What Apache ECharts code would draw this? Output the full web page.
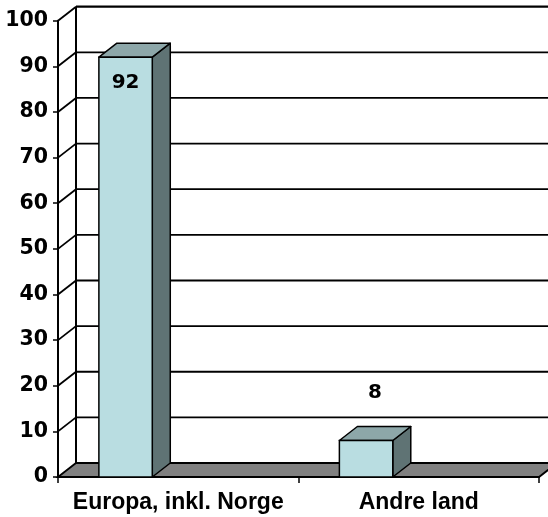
<!DOCTYPE html>
<html>
<head>
<meta charset="utf-8">
<script src="https://cdn.jsdelivr.net/npm/echarts@6/dist/echarts.min.js"></script>
<style>
html,body{margin:0;padding:0;background:#fff;}
#c{width:548px;height:517px;}
</style>
</head>
<body>
<div id="c"></div>
<script>
const categories = ['Europa, inkl. Norge', 'Andre land'];
const values = [92, 8];
const yTicks = [0, 10, 20, 30, 40, 50, 60, 70, 80, 90, 100];

const DX = 18, DY = -14;
const FRONT = '#b9dde1', TOP = '#8da7a9', SIDE = '#5f7374', FLOOR = '#808080';

const chart = echarts.init(document.getElementById('c'), null, {renderer: 'canvas'});

function renderWalls(params, api) {
  const v = api.value(1);
  const cs = params.coordSys;
  const x0 = cs.x, x1 = cs.x + cs.width;
  const y = api.coord([0, v])[1];
  const y0 = api.coord([0, 0])[1];
  const yTop = api.coord([0, 100])[1];
  const children = [];
  if (v === 0) {
    children.push({
      type: 'polygon',
      shape: {points: [[x0, y], [x0 + DX, y + DY], [x1 + DX, y + DY], [x1, y]]},
      style: {fill: FLOOR, stroke: '#000', lineWidth: 1.8}
    });
    children.push({
      type: 'line',
      shape: {x1: x0 + DX, y1: y0 + DY, x2: x0 + DX, y2: yTop + DY},
      style: {stroke: '#000', lineWidth: 2}
    });
  } else {
    children.push({
      type: 'line',
      shape: {x1: x0 + DX, y1: y + DY, x2: x1 + DX + 20, y2: y + DY},
      style: {stroke: '#000', lineWidth: v === 100 ? 2.2 : 1.8}
    });
    children.push({
      type: 'line',
      shape: {x1: x0, y1: y, x2: x0 + DX, y2: y + DY},
      style: {stroke: '#000', lineWidth: 1.8}
    });
  }
  return {type: 'group', children: children};
}

function renderBars(params, api) {
  const idx = api.value(0);
  const val = api.value(1);
  const top = api.coord([idx, val]);
  const base = api.coord([idx, 0]);
  const band = api.size([1, 0])[0];
  const R = top[0] - band * 0.108;
  const L = R - band * 0.222;
  const yt = top[1], yb = base[1];
  const children = [
    {type: 'polygon', shape: {points: [[R, yt], [R + DX, yt + DY], [R + DX, yb + DY], [R, yb]]},
     style: {fill: SIDE, stroke: '#000', lineWidth: 1.5, lineJoin: 'round'}},
    {type: 'polygon', shape: {points: [[L, yt], [L + DX, yt + DY], [R + DX, yt + DY], [R, yt]]},
     style: {fill: TOP, stroke: '#000', lineWidth: 1.5, lineJoin: 'round'}},
    {type: 'rect', shape: {x: L, y: yt, width: R - L, height: yb - yt},
     style: {fill: FRONT, stroke: '#000', lineWidth: 1.5}}
  ];
  const inside = (yb - yt) > 60;
  children.push({
    type: 'text',
    style: {
      text: String(val),
      x: inside ? (L + R) / 2 : (L + R + DX) / 2,
      y: inside ? yt + 26 : yt - 48,
      fill: '#000',
      font: 'bold 20px "DejaVu Sans"',
      textAlign: 'center',
      textVerticalAlign: 'middle'
    }
  });
  return {type: 'group', children: children};
}

chart.setOption({
  animation: false,
  backgroundColor: '#ffffff',
  grid: {left: 58, right: 9, top: 20.7, bottom: 40, containLabel: false},
  xAxis: {
    type: 'category',
    data: categories,
    boundaryGap: true,
    axisLine: {show: true, lineStyle: {color: '#000', width: 1.8}},
    axisTick: {show: true, length: 6, inside: false, lineStyle: {color: '#000', width: 1.5}},
    axisLabel: {interval: 0, hideOverlap: false, color: '#000', fontFamily: '"Liberation Sans", Arial, sans-serif', fontWeight: 'bold', fontSize: 23, margin: 14},
    splitLine: {show: false}
  },
  yAxis: {
    type: 'value',
    min: 0, max: 100, interval: 10,
    axisLine: {show: true, lineStyle: {color: '#000', width: 2}},
    axisTick: {show: true, length: 5, inside: false, lineStyle: {color: '#000', width: 1.5}},
    axisLabel: {color: '#000', fontFamily: '"DejaVu Sans", sans-serif', fontWeight: 'bold', fontSize: 20.5, margin: 10},
    splitLine: {show: false}
  },
  series: [
    {
      type: 'custom',
      name: 'walls',
      z: 1,
      silent: true,
      renderItem: renderWalls,
      data: yTicks.map(v => [0, v])
    },
    {
      type: 'custom',
      name: 'Andel',
      z: 3,
      renderItem: renderBars,
      data: values.map((v, i) => [i, v])
    }
  ]
});
</script>
</body>
</html>
